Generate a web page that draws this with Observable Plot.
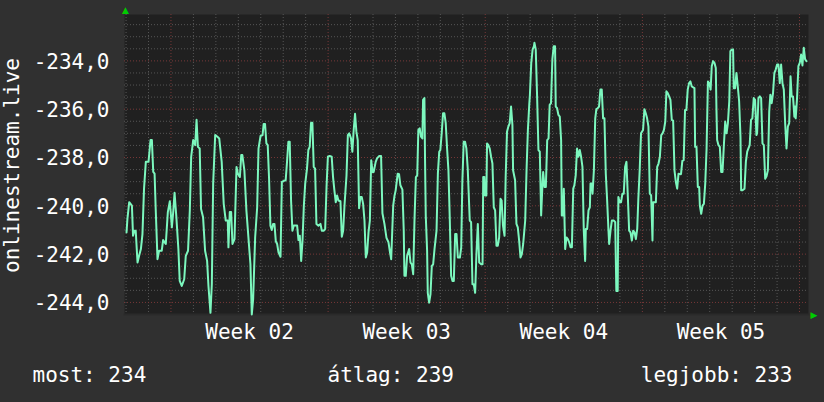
<!DOCTYPE html>
<html><head><meta charset="utf-8">
<script src="https://cdn.jsdelivr.net/npm/d3@7"></script>
<script src="https://cdn.jsdelivr.net/npm/@observablehq/plot@0.6"></script>
<style>
html,body{margin:0;padding:0;background:#303030;}
#chart{width:824px;height:402px;overflow:hidden;}
</style></head><body><div id="chart"></div>
<script>
const seriesName = "onlinestream.live";
const weekLabels = ["Week 02", "Week 03", "Week 04", "Week 05"];
const weekCenters = [3.5, 10.5, 17.5, 24.5];   // days since start of Week 02
const weekStarts = [0, 7, 14, 21, 28];
const yTicks = [-244, -242, -240, -238, -236, -234];
const footer = ["most: 234", "átlag: 239", "legjobb: 233"];
const xDomain = [-2.07, 28.40];
const yDomain = [-244.5, -232.08];

// [day, value]
const samples = [
[-1.98,-241.10],[-1.94,-240.54],[-1.86,-239.85],[-1.74,-239.99],[-1.69,-241.24],[-1.63,-241.03],[-1.57,-241.03],[-1.49,-242.35],[-1.42,-242.07],[-1.34,-241.79],[-1.27,-241.17],[-1.20,-239.29],[-1.12,-238.18],[-1.00,-238.18],[-0.91,-237.28],[-0.85,-237.28],[-0.79,-238.60],[-0.73,-238.67],[-0.68,-240.13],[-0.60,-242.21],[-0.53,-241.86],[-0.41,-241.86],[-0.35,-241.42],[-0.23,-241.58],[-0.14,-240.26],[-0.05,-239.81],[0.04,-240.89],[0.10,-240.26],[0.16,-239.46],[0.24,-240.47],[0.33,-241.79],[0.39,-243.11],[0.48,-243.32],[0.59,-243.04],[0.66,-242.07],[0.76,-241.86],[0.84,-240.19],[0.90,-237.97],[0.99,-237.28],[1.08,-237.49],[1.14,-236.44],[1.20,-237.56],[1.28,-237.63],[1.34,-240.13],[1.43,-240.47],[1.52,-241.86],[1.61,-242.28],[1.67,-243.32],[1.76,-244.43],[1.82,-243.25],[1.88,-239.08],[1.97,-237.07],[2.07,-237.14],[2.15,-237.21],[2.26,-238.18],[2.35,-239.92],[2.44,-240.61],[2.53,-240.61],[2.56,-241.72],[2.62,-240.26],[2.68,-240.26],[2.74,-241.58],[2.83,-241.38],[2.92,-238.39],[2.98,-238.67],[3.07,-238.81],[3.13,-237.90],[3.18,-237.90],[3.27,-238.53],[3.36,-240.19],[3.45,-241.31],[3.54,-242.42],[3.60,-244.50],[3.66,-243.88],[3.75,-241.31],[3.84,-240.06],[3.90,-237.63],[3.99,-237.11],
[4.08,-237.07],[4.13,-236.61],[4.19,-236.61],[4.25,-237.42],[4.31,-237.49],[4.37,-238.88],[4.43,-240.82],[4.49,-241.00],[4.55,-240.75],[4.61,-240.75],[4.67,-241.47],[4.73,-241.58],[4.79,-241.93],[4.88,-242.11],[4.94,-239.01],[5.03,-238.97],[5.11,-238.94],[5.17,-238.18],[5.23,-237.35],[5.29,-237.35],[5.35,-239.78],[5.41,-241.03],[5.47,-240.82],[5.62,-240.82],[5.68,-241.42],[5.74,-241.24],[5.80,-242.28],[5.86,-241.44],[5.92,-239.99],[5.98,-239.08],[6.06,-238.46],[6.12,-237.69],[6.18,-237.56],[6.24,-236.56],[6.30,-236.56],[6.36,-238.39],[6.42,-238.46],[6.48,-240.75],[6.57,-240.82],[6.66,-240.75],[6.72,-241.03],[6.81,-241.03],[6.87,-240.96],[6.93,-239.22],[6.99,-237.97],[7.07,-237.94],[7.16,-237.97],[7.22,-238.81],[7.28,-239.36],[7.34,-239.85],[7.40,-239.57],[7.46,-239.78],[7.55,-239.81],[7.61,-241.28],[7.67,-241.03],[7.73,-239.99],[7.82,-238.74],[7.88,-237.07],[7.94,-237.00],[8.02,-237.21],[8.08,-237.76],[8.14,-236.86],[8.20,-236.19],[8.26,-236.93],[8.32,-237.28],[8.38,-240.10],[8.44,-239.64],[8.50,-239.64],[8.56,-239.92],[8.62,-240.61],[8.68,-242.14],[8.74,-241.93],[8.80,-241.10],[8.86,-240.61],[8.92,-238.11],[8.98,-238.60],[9.03,-238.60],[9.12,-238.18],[9.18,-238.04],[9.27,-237.94],[9.36,-237.94],[9.42,-240.31],[9.51,-240.75],[9.60,-241.33],[9.69,-241.51],[9.75,-241.89],[9.81,-242.21],[9.90,-239.99],[9.96,-239.57],[10.01,-239.36],[10.10,-238.67],
[10.16,-238.69],[10.22,-239.15],[10.31,-239.33],[10.37,-241.03],[10.40,-242.90],[10.46,-242.90],[10.52,-242.07],[10.61,-241.79],[10.67,-242.35],[10.73,-242.42],[10.79,-242.83],[10.85,-240.54],[10.91,-238.81],[10.97,-238.74],[11.02,-236.86],[11.08,-236.79],[11.14,-237.14],[11.20,-237.21],[11.23,-235.61],[11.29,-235.54],[11.32,-238.25],[11.35,-240.40],[11.41,-241.86],[11.44,-243.60],[11.50,-244.01],[11.56,-243.67],[11.62,-242.49],[11.68,-242.42],[11.74,-241.79],[11.83,-241.03],[11.89,-238.67],[11.95,-237.76],[12.00,-237.69],[12.06,-237.00],[12.12,-236.17],[12.18,-236.17],[12.24,-236.58],[12.30,-237.63],[12.36,-238.53],[12.42,-240.54],[12.48,-242.90],[12.54,-243.11],[12.60,-243.11],[12.66,-241.17],[12.72,-241.17],[12.78,-242.14],[12.87,-242.14],[12.93,-241.72],[12.98,-239.01],[13.04,-237.35],[13.10,-237.35],[13.16,-237.63],[13.22,-238.46],[13.31,-240.61],[13.37,-240.68],[13.43,-243.25],[13.49,-243.25],[13.55,-243.60],[13.61,-241.93],[13.67,-240.75],[13.73,-242.35],[13.82,-242.42],[13.88,-242.42],[13.91,-238.81],[13.96,-238.81],[13.99,-239.57],[14.05,-239.57],[14.08,-237.42],[14.14,-237.49],[14.20,-237.63],[14.26,-237.97],[14.32,-238.25],[14.38,-240.06],[14.44,-240.19],[14.50,-241.65],[14.56,-241.65],[14.62,-241.31],[14.68,-239.71],[14.73,-239.78],[14.79,-240.82],[14.86,-241.24],[14.91,-238.81],[14.97,-236.93],[15.03,-236.72],[15.09,-236.58],[15.15,-235.89],[15.21,-236.65],[15.24,-238.53],[15.33,-238.94],[15.39,-240.75],[15.45,-240.89],[15.51,-241.44],[15.57,-242.14],[15.63,-242.00],[15.69,-241.58],[15.78,-240.61],[15.84,-238.53],[15.90,-236.86],[15.96,-235.82],[15.99,-235.40],[16.05,-234.08],[16.11,-233.53],[16.17,-233.39],
[16.19,-233.25],[16.25,-233.53],[16.31,-235.47],[16.37,-237.69],[16.43,-237.76],[16.49,-240.40],[16.55,-239.08],[16.58,-238.60],[16.64,-239.22],[16.70,-239.22],[16.76,-237.28],[16.82,-237.21],[16.87,-235.82],[16.93,-235.75],[16.99,-233.94],[17.05,-233.39],[17.11,-233.39],[17.14,-235.89],[17.20,-235.96],[17.26,-236.24],[17.32,-236.31],[17.38,-237.28],[17.41,-240.40],[17.47,-240.40],[17.50,-239.29],[17.56,-241.79],[17.62,-241.31],[17.68,-241.38],[17.74,-241.51],[17.80,-241.72],[17.86,-241.72],[17.92,-239.29],[17.97,-239.15],[18.03,-238.74],[18.09,-237.63],[18.15,-237.97],[18.21,-237.69],[18.27,-237.97],[18.33,-238.39],[18.39,-241.03],[18.45,-242.28],[18.48,-240.96],[18.54,-240.96],[18.60,-240.19],[18.66,-240.06],[18.69,-239.08],[18.75,-239.08],[18.78,-239.50],[18.84,-238.53],[18.90,-236.38],[18.95,-236.00],[19.01,-235.96],[19.07,-235.89],[19.13,-235.19],[19.19,-235.19],[19.25,-236.38],[19.31,-236.38],[19.37,-238.67],[19.43,-239.78],[19.49,-241.03],[19.52,-241.58],[19.58,-241.03],[19.64,-240.61],[19.73,-240.61],[19.79,-240.68],[19.84,-243.53],[19.90,-243.53],[19.93,-239.64],[19.99,-239.85],[20.05,-239.85],[20.11,-239.50],[20.17,-239.50],[20.23,-238.39],[20.29,-238.18],[20.35,-239.57],[20.41,-241.03],[20.47,-241.10],[20.53,-241.44],[20.59,-241.03],[20.65,-241.10],[20.71,-241.38],[20.77,-240.96],[20.82,-239.71],[20.88,-238.53],[20.94,-237.00],[21.03,-236.86],[21.09,-236.00],[21.15,-236.17],[21.21,-236.38],[21.27,-236.72],[21.33,-239.50],[21.39,-239.57],[21.45,-241.44],[21.48,-239.85],[21.54,-239.85],[21.60,-239.85],[21.66,-238.39],[21.72,-238.25],[21.78,-237.97],[21.84,-237.07],[21.90,-237.00],[21.96,-236.86],[22.02,-236.51],[22.07,-235.26],[22.13,-235.33],[22.19,-235.47],
[22.25,-235.61],[22.31,-236.44],[22.37,-236.47],[22.43,-238.53],[22.49,-239.01],[22.55,-239.29],[22.61,-238.67],[22.72,-238.69],[22.78,-238.14],[22.84,-238.11],[22.90,-236.03],[22.96,-236.03],[23.02,-235.19],[23.08,-234.92],[23.14,-234.85],[23.20,-235.06],[23.32,-235.13],[23.35,-237.56],[23.41,-237.56],[23.47,-239.22],[23.53,-239.22],[23.56,-239.99],[23.62,-240.33],[23.68,-239.99],[23.74,-239.92],[23.80,-239.08],[23.86,-237.63],[23.92,-234.85],[23.98,-234.92],[24.04,-235.19],[24.09,-234.22],[24.15,-234.01],[24.21,-234.08],[24.27,-234.29],[24.30,-236.03],[24.33,-237.28],[24.39,-237.49],[24.45,-237.56],[24.51,-238.60],[24.57,-238.60],[24.63,-237.49],[24.69,-236.51],[24.75,-237.00],[24.81,-236.58],[24.87,-235.68],[24.92,-233.60],[24.98,-233.53],[25.04,-233.53],[25.07,-235.13],[25.13,-235.13],[25.19,-234.50],[25.25,-235.06],[25.31,-235.68],[25.37,-237.14],[25.40,-239.36],[25.46,-239.36],[25.55,-239.29],[25.61,-238.18],[25.67,-237.76],[25.72,-237.63],[25.78,-237.49],[25.84,-236.44],[25.90,-236.38],[25.96,-235.54],[26.02,-235.61],[26.08,-237.07],[26.11,-237.00],[26.17,-235.54],[26.23,-235.47],[26.29,-235.54],[26.35,-237.42],[26.41,-237.49],[26.47,-238.88],[26.53,-238.78],[26.59,-238.53],[26.65,-236.10],[26.70,-235.40],[26.76,-235.75],[26.82,-235.33],[26.88,-234.50],[26.94,-234.36],[27.00,-234.15],[27.06,-234.15],[27.12,-234.92],[27.18,-234.15],[27.24,-234.92],[27.30,-235.19],[27.36,-236.58],[27.42,-237.63],[27.48,-236.72],[27.54,-236.58],[27.60,-234.64],[27.65,-235.47],[27.71,-235.47],[27.77,-236.31],[27.80,-235.89],[27.83,-236.38],[27.89,-235.54],[27.95,-234.22],[28.01,-234.08],[28.07,-233.74],[28.13,-234.19],[28.19,-233.46],[28.25,-233.94],[28.31,-234.01]
];

const dayLines = d3.range(-2, 29).filter(d => !weekStarts.includes(d));
const yMinor = d3.range(-244.5, -232.2, 0.5).filter(v => !yTicks.includes(v));
const fmt = v => v.toFixed(1).replace(".", ",");
const white = "#ffffff";
const minorStroke = "#555555";
const majorStroke = "#773838";
const arrowGreen = "#00cc00";

const chart = Plot.plot({
  width: 824, height: 402,
  marginLeft: 124, marginRight: 16, marginTop: 14, marginBottom: 88,
  style: {background: "#303030", color: white, fontFamily: "DejaVu Sans Mono", fontSize: "21px", overflow: "visible"},
  x: {domain: xDomain, axis: null},
  y: {domain: yDomain, axis: null},
  marks: [
    Plot.frame({fill: "#202020", stroke: null}),
    Plot.ruleY(yMinor, {stroke: minorStroke, strokeDasharray: "1,2"}),
    Plot.ruleX(dayLines, {stroke: minorStroke, strokeDasharray: "1,2"}),
    Plot.ruleY(yTicks, {stroke: majorStroke, strokeDasharray: "1,2"}),
    Plot.ruleX(weekStarts, {stroke: majorStroke, strokeDasharray: "1,2"}),
    Plot.frame({anchor: "bottom", stroke: "#2a2a2a", strokeWidth: 2}),
    Plot.line(samples, {x: d => d[0], y: d => d[1], stroke: "#7cf7be", strokeWidth: 2}),
    Plot.text(yTicks, {y: d => d, text: fmt, frameAnchor: "left", textAnchor: "end", dx: -15, dy: 1, fill: white}),
    Plot.text(weekCenters, {x: d => d, text: (d, i) => weekLabels[i], frameAnchor: "bottom", textAnchor: "middle", lineAnchor: "bottom", dy: 24.5, fill: white}),
    Plot.text([seriesName], {text: d => d, frameAnchor: "left", textAnchor: "middle", lineAnchor: "middle", rotate: -90, dx: -112, dy: 1, fill: white}),
    Plot.text([footer[0]], {text: d => d, frameAnchor: "bottom-left", textAnchor: "start", lineAnchor: "bottom", dx: -92, dy: 67, fill: white}),
    Plot.text([footer[1]], {text: d => d, frameAnchor: "bottom-left", textAnchor: "start", lineAnchor: "bottom", dx: 203, dy: 67, fill: white}),
    Plot.text([footer[2]], {text: d => d, frameAnchor: "bottom-right", textAnchor: "end", lineAnchor: "bottom", dx: -16, dy: 67, fill: white}),
    Plot.text(["▲"], {text: d => d, frameAnchor: "top-left", textAnchor: "middle", lineAnchor: "bottom", fontSize: 9, fontFamily: "DejaVu Sans", fill: arrowGreen, dx: 1, dy: -1.5}),
    Plot.text(["▶"], {text: d => d, frameAnchor: "bottom-right", textAnchor: "middle", lineAnchor: "middle", fontSize: 9, fontFamily: "DejaVu Sans", fill: arrowGreen, dx: 5.5, dy: 1})
  ]
});
document.getElementById("chart").appendChild(chart);
</script></body></html>
